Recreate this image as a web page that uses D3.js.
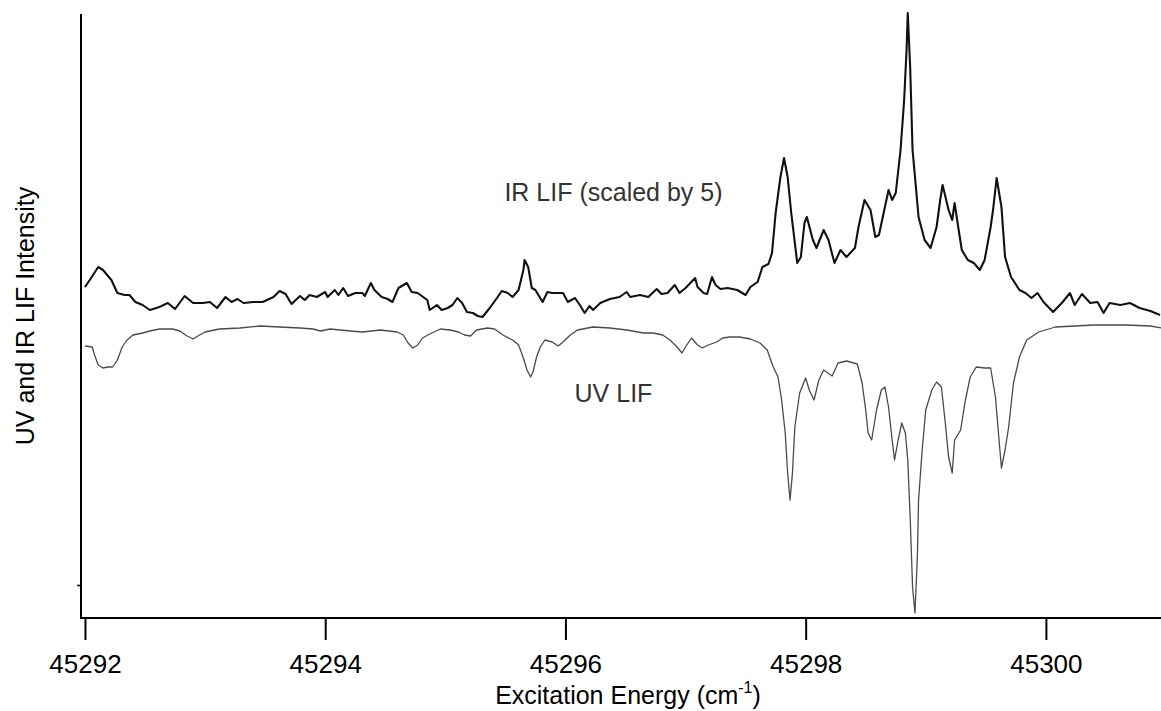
<!DOCTYPE html>
<html>
<head>
<meta charset="utf-8">
<script src="https://cdn.jsdelivr.net/npm/d3@7"></script>
<style>
  body { margin: 0; background: #fff; }
  text { font-family: "Liberation Sans", Arial, sans-serif; }
</style>
</head>
<body>
<svg id="chart" width="1161" height="711"></svg>
<script>
// tick labels on the energy axis (cm-1)
const xTicks = [45292, 45294, 45296, 45298, 45300];

// IR LIF trace (scaled by 5), arbitrary intensity units
const irEnergy = [
  45292.00, 45292.04, 45292.11, 45292.15, 45292.22, 45292.27, 45292.33, 45292.37, 45292.42, 45292.48,
  45292.54, 45292.62, 45292.69, 45292.75, 45292.83, 45292.90, 45292.98, 45293.04, 45293.10, 45293.17,
  45293.22, 45293.27, 45293.32, 45293.40, 45293.48, 45293.57, 45293.62, 45293.67, 45293.72, 45293.79,
  45293.83, 45293.87, 45293.93, 45294.00, 45294.02, 45294.08, 45294.11, 45294.15, 45294.19, 45294.25,
  45294.31, 45294.33, 45294.38, 45294.41, 45294.47, 45294.52, 45294.56, 45294.61, 45294.68, 45294.72,
  45294.77, 45294.85, 45294.87, 45294.93, 45294.97, 45295.02, 45295.06, 45295.10, 45295.14, 45295.18,
  45295.23, 45295.27, 45295.31, 45295.37, 45295.43, 45295.47, 45295.52, 45295.56, 45295.61, 45295.65,
  45295.66, 45295.69, 45295.72, 45295.75, 45295.81, 45295.85, 45295.89, 45295.94, 45295.98, 45296.02,
  45296.08, 45296.12, 45296.16, 45296.20, 45296.23, 45296.29, 45296.37, 45296.45, 45296.51, 45296.54,
  45296.62, 45296.69, 45296.76, 45296.80, 45296.85, 45296.91, 45296.95, 45297.00, 45297.04, 45297.08,
  45297.10, 45297.15, 45297.18, 45297.22, 45297.25, 45297.29, 45297.35, 45297.43, 45297.50, 45297.54,
  45297.60, 45297.64, 45297.69, 45297.72, 45297.75, 45297.79, 45297.82, 45297.85, 45297.88, 45297.93,
  45297.96, 45297.99, 45298.01, 45298.06, 45298.09, 45298.15, 45298.19, 45298.24, 45298.29, 45298.34,
  45298.41, 45298.44, 45298.49, 45298.54, 45298.58, 45298.61, 45298.66, 45298.69, 45298.72, 45298.75,
  45298.79, 45298.82, 45298.84, 45298.85, 45298.87, 45298.89, 45298.94, 45298.99, 45299.04, 45299.09,
  45299.12, 45299.14, 45299.19, 45299.22, 45299.24, 45299.27, 45299.30, 45299.35, 45299.40, 45299.45,
  45299.49, 45299.54, 45299.56, 45299.59, 45299.63, 45299.66, 45299.71, 45299.78, 45299.83, 45299.88,
  45299.93, 45299.98, 45300.06, 45300.14, 45300.20, 45300.24, 45300.30, 45300.37, 45300.43, 45300.48,
  45300.53, 45300.62, 45300.70, 45300.78, 45300.87, 45300.95
];
const irSignal = [
  331, 338, 351, 348, 338, 325, 323, 323, 316, 313,
  308, 311, 315, 309, 322, 315, 315, 316, 310, 321,
  316, 319, 315, 316, 316, 321, 327, 324, 314, 322,
  318, 323, 321, 326, 321, 328, 323, 330, 322, 325,
  325, 322, 335, 328, 321, 319, 316, 330, 335, 326,
  325, 318, 308, 313, 308, 310, 313, 320, 315, 306,
  305, 302, 301, 310, 320, 327, 325, 321, 328, 348,
  358, 351, 330, 328, 316, 326, 325, 325, 325, 316,
  320, 313, 305, 312, 308, 315, 319, 321, 326, 321,
  323, 321, 329, 324, 325, 333, 325, 330, 335, 340,
  331, 325, 324, 341, 333, 329, 330, 328, 323, 331,
  336, 351, 354, 365, 405, 441, 460, 441, 405, 355,
  361, 395, 401, 378, 370, 388, 378, 355, 368, 361,
  370, 391, 418, 408, 381, 383, 411, 428, 418, 425,
  468, 518, 568, 605, 551, 468, 401, 378, 370, 391,
  418, 433, 408, 398, 415, 391, 368, 358, 355, 348,
  358, 391, 408, 440, 411, 361, 341, 328, 325, 320,
  325, 316, 306, 316, 325, 313, 324, 315, 316, 305,
  315, 313, 315, 310, 307, 303
];

// UV LIF trace (plotted downward), arbitrary intensity units
const uvEnergy = [
  45292.00, 45292.06, 45292.08, 45292.11, 45292.15, 45292.19, 45292.23, 45292.27, 45292.31, 45292.35,
  45292.40, 45292.48, 45292.54, 45292.62, 45292.73, 45292.79, 45292.85, 45292.90, 45292.94, 45293.00,
  45293.12, 45293.29, 45293.46, 45293.62, 45293.79, 45293.90, 45293.96, 45294.04, 45294.21, 45294.31,
  45294.46, 45294.60, 45294.65, 45294.69, 45294.73, 45294.77, 45294.81, 45294.87, 45294.96, 45295.04,
  45295.11, 45295.16, 45295.21, 45295.26, 45295.35, 45295.41, 45295.48, 45295.56, 45295.61, 45295.65,
  45295.68, 45295.71, 45295.73, 45295.76, 45295.79, 45295.83, 45295.89, 45295.94, 45295.98, 45296.04,
  45296.10, 45296.23, 45296.37, 45296.51, 45296.65, 45296.73, 45296.81, 45296.87, 45296.93, 45296.97,
  45297.01, 45297.05, 45297.10, 45297.14, 45297.19, 45297.26, 45297.31, 45297.37, 45297.45, 45297.54,
  45297.62, 45297.68, 45297.73, 45297.77, 45297.80, 45297.83, 45297.85, 45297.87, 45297.89, 45297.91,
  45297.95, 45298.00, 45298.03, 45298.07, 45298.11, 45298.15, 45298.22, 45298.27, 45298.34, 45298.43,
  45298.47, 45298.50, 45298.52, 45298.55, 45298.59, 45298.63, 45298.66, 45298.69, 45298.72, 45298.74,
  45298.77, 45298.80, 45298.83, 45298.85, 45298.87, 45298.89, 45298.91, 45298.93, 45298.94, 45298.97,
  45299.00, 45299.05, 45299.09, 45299.13, 45299.16, 45299.19, 45299.22, 45299.24, 45299.29, 45299.33,
  45299.37, 45299.42, 45299.49, 45299.54, 45299.58, 45299.61, 45299.63, 45299.66, 45299.69, 45299.73,
  45299.78, 45299.84, 45299.94, 45300.08, 45300.40, 45300.67, 45300.87, 45300.96
];
const uvSignal = [
  272, 271, 263, 253, 250, 251, 251, 258, 271, 278,
  283, 285, 287, 289, 289, 287, 282, 279, 282, 286,
  289, 290, 292, 291, 290, 289, 287, 289, 287, 286,
  288, 286, 283, 275, 270, 273, 280, 284, 289, 288,
  286, 283, 282, 288, 290, 289, 283, 278, 273, 260,
  248, 241, 246, 261, 271, 278, 276, 272, 276, 283,
  288, 291, 290, 288, 285, 285, 283, 278, 271, 265,
  273, 280, 273, 270, 273, 276, 280, 281, 281, 279,
  275, 268, 251, 241, 218, 185, 145, 118, 145, 191,
  225, 240, 228, 218, 238, 248, 242, 255, 257, 254,
  235, 208, 185, 178, 208, 228, 231, 211, 178, 158,
  178, 195, 185, 158, 101, 31, 5, 61, 118, 168,
  208, 228, 236, 231, 198, 161, 145, 178, 188, 218,
  241, 251, 250, 250, 221, 178, 150, 168, 191, 235,
  261, 278, 286, 291, 293, 293, 292, 290
];

const traceNames = ["IR LIF (scaled by 5)", "UV LIF"];
const xTitle = "Excitation Energy (cm";
const yTitle = "UV and IR LIF Intensity";

const svg = d3.select("#chart");

const x = d3.scaleLinear().domain([45291.967, 45300.95]).range([81, 1160]);
const y = d3.scaleLinear().domain([0, 604]).range([618, 14]);

const line = d3.line()
  .x(d => x(d[0]))
  .y(d => y(d[1]));

svg.append("path")
  .datum(uvEnergy.map((e, i) => [e, uvSignal[i]]))
  .attr("fill", "none")
  .attr("stroke", "#4a4a4a")
  .attr("stroke-width", 1.3)
  .attr("stroke-linejoin", "round")
  .attr("d", line);

svg.append("path")
  .datum(irEnergy.map((e, i) => [e, irSignal[i]]))
  .attr("fill", "none")
  .attr("stroke", "#111")
  .attr("stroke-width", 2.1)
  .attr("stroke-linejoin", "round")
  .attr("d", line);

// axes
const xAxis = svg.append("g")
  .attr("transform", "translate(0,618)")
  .call(d3.axisBottom(x).tickValues(xTicks).tickSize(22).tickPadding(15).tickFormat(d3.format("d")));
xAxis.select(".domain").remove();
xAxis.selectAll(".tick line").attr("stroke", "#000").attr("stroke-width", 2);
xAxis.selectAll(".tick text")
  .attr("fill", "#000")
  .style("font-size", "26px");

const yAxis = svg.append("g")
  .attr("transform", "translate(81,0)")
  .call(d3.axisLeft(y).tickValues([33]).tickSize(4).tickFormat(""));
yAxis.select(".domain").remove();
yAxis.selectAll(".tick line").attr("stroke", "#000").attr("stroke-width", 1.5);

svg.append("line")
  .attr("x1", 81).attr("x2", 1161)
  .attr("y1", 618).attr("y2", 618)
  .attr("stroke", "#000").attr("stroke-width", 2);
svg.append("line")
  .attr("x1", 81).attr("x2", 81)
  .attr("y1", 14).attr("y2", 619)
  .attr("stroke", "#000").attr("stroke-width", 2);

// trace labels
svg.append("text")
  .attr("x", x(45296.40)).attr("y", y(417))
  .attr("text-anchor", "middle")
  .attr("fill", "#333")
  .style("font-size", "25px")
  .text(traceNames[0]);
svg.append("text")
  .attr("x", x(45296.40)).attr("y", y(216))
  .attr("text-anchor", "middle")
  .attr("fill", "#333")
  .style("font-size", "25px")
  .text(traceNames[1]);

// axis titles
const xt = svg.append("text")
  .attr("x", 628).attr("y", 704)
  .attr("text-anchor", "middle")
  .attr("fill", "#000")
  .style("font-size", "25px");
xt.append("tspan").text(xTitle);
xt.append("tspan").attr("dy", -11).style("font-size", "16px").text("-1");
xt.append("tspan").attr("dy", 11).text(")");

svg.append("text")
  .attr("transform", "translate(34,316) rotate(-90)")
  .attr("text-anchor", "middle")
  .attr("fill", "#000")
  .style("font-size", "25px")
  .text(yTitle);
</script>
</body>
</html>
